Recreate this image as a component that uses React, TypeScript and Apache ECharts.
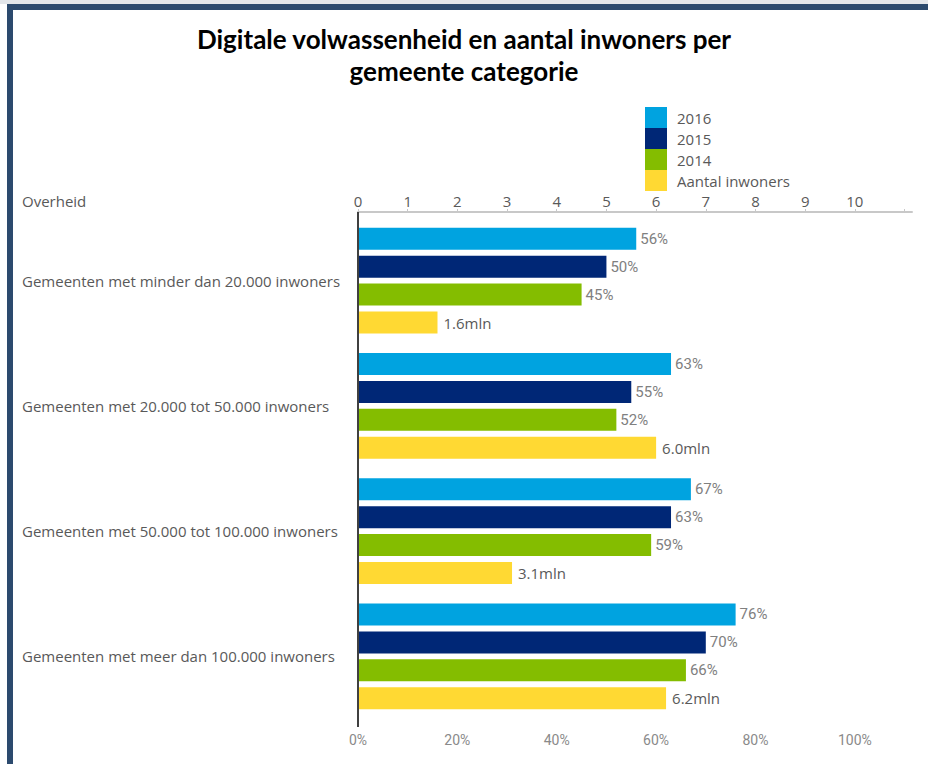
import React, { useEffect, useRef } from "react";
import * as echarts from "echarts";

const categories = [
  "Gemeenten met minder dan 20.000 inwoners",
  "Gemeenten met 20.000 tot 50.000 inwoners",
  "Gemeenten met 50.000 tot 100.000 inwoners",
  "Gemeenten met meer dan 100.000 inwoners",
];
const pct2016 = [56, 63, 67, 76];
const pct2015 = [50, 55, 63, 70];
const pct2014 = [45, 52, 59, 66];
const inwonersMln = [1.6, 6.0, 3.1, 6.2];
const topTicks = [0, 1, 2, 3, 4, 5, 6, 7, 8, 9, 10];
const bottomTicks = ["0%", "20%", "40%", "60%", "80%", "100%"];

const TITLE_FONT = "Lato, 'Open Sans', sans-serif";
const FONT = "'Open Sans', Lato, sans-serif";
const COND = "Roboto, 'Noto Sans', sans-serif";

export default function App() {
  const ref = useRef<HTMLDivElement>(null);
  useEffect(() => {
    if (!ref.current) return;
    const chart = echarts.init(ref.current, null, { renderer: "svg" });
    const pctLabel = {
      show: true,
      position: "right",
      distance: 4,
      color: "#808080",
      fontSize: 15,
      fontFamily: COND,
      formatter: (p: any) => Math.round(p.value * 10) + "%",
    };
    const mlnLabel = {
      show: true,
      position: "right",
      distance: 6,
      color: "#595959",
      fontSize: 15,
      fontFamily: FONT,
      formatter: (p: any) => p.value.toFixed(1) + "mln",
    };
    const mkBar = (name: string, data: number[], color: string, label: any) => ({
      name,
      type: "bar",
      data,
      barWidth: 22,
      barGap: "27%",
      itemStyle: { color },
      label,
      xAxisIndex: 0,
    });
    chart.setOption({
      animation: false,
      backgroundColor: "#ffffff",
      title: {
        text: "Digitale volwassenheid en aantal inwoners per\ngemeente categorie",
        left: "center",
        top: 18,
        padding: [5, 0, 5, 8],
        textStyle: {
          fontSize: 26,
          lineHeight: 32,
          fontWeight: "bold",
          color: "#000000",
          fontFamily: TITLE_FONT,
        },
      },
      legend: {
        orient: "vertical",
        left: 645,
        top: 107,
        padding: 0,
        itemWidth: 22,
        itemHeight: 21,
        itemGap: 0,
        icon: "rect",
        textStyle: {
          fontSize: 15,
          color: "#595959",
          fontFamily: FONT,
          lineHeight: 21,
          padding: [0, 0, 0, 5],
        },
        data: ["2016", "2015", "2014", "Aantal inwoners"],
      },
      grid: { left: 358, right: 16, top: 218, bottom: 45, containLabel: false },
      xAxis: [
        {
          type: "value",
          position: "top",
          offset: 6,
          min: 0,
          max: 11.15,
          interval: 1,
          splitLine: { show: false },
          axisLine: { show: true, lineStyle: { color: "#c8c8c8", width: 2 } },
          axisTick: { show: true, length: 3, lineStyle: { color: "#c8c8c8" } },
          axisLabel: {
            color: "#595959",
            fontSize: 15,
            fontFamily: FONT,
            margin: 4,
            showMaxLabel: false,
            formatter: (v: number) => (topTicks.indexOf(v) >= 0 ? String(v) : ""),
          },
        },
        {
          type: "value",
          position: "bottom",
          min: 0,
          max: 11.15,
          interval: 2,
          splitLine: { show: false },
          axisLine: { show: false },
          axisTick: { show: false },
          axisLabel: {
            color: "#8a8a8a",
            fontSize: 14,
            fontFamily: COND,
            margin: 14,
            showMaxLabel: false,
            formatter: (v: number) => {
              const i = Math.round(v / 2);
              return v <= 10 && bottomTicks[i] ? bottomTicks[i] : "";
            },
          },
        },
      ],
      yAxis: {
        type: "category",
        inverse: true,
        data: categories,
        axisLine: { show: false },
        axisTick: { show: false },
        axisLabel: {
          align: "left",
          margin: 336,
          color: "#595959",
          fontSize: 15,
          fontFamily: FONT,
        },
      },
      series: [
        mkBar("2016", pct2016.map((v) => v / 10), "#00A3E0", pctLabel),
        mkBar("2015", pct2015.map((v) => v / 10), "#002776", pctLabel),
        mkBar("2014", pct2014.map((v) => v / 10), "#84BD00", pctLabel),
        mkBar("Aantal inwoners", inwonersMln, "#FFD933", mlnLabel),
      ],
      graphic: [
        { type: "rect", shape: { x: 0, y: 0, width: 928, height: 4 }, style: { fill: "#e3e6ea" }, silent: true },
        { type: "rect", shape: { x: 7, y: 4, width: 921, height: 6 }, style: { fill: "#2c4a6e" }, silent: true },
        { type: "rect", shape: { x: 7, y: 4, width: 6, height: 760 }, style: { fill: "#2c4a6e" }, silent: true },
        {
          type: "line",
          shape: { x1: 358, y1: 212, x2: 358, y2: 727 },
          style: { stroke: "#404040", lineWidth: 2 },
          silent: true,
          z: 10,
        },
        {
          type: "text",
          x: 22,
          y: 201,
          style: {
            text: "Overheid",
            fontSize: 15,
            fill: "#595959",
            fontFamily: FONT,
            verticalAlign: "middle",
          },
        },
      ],
    });
    return () => chart.dispose();
  }, []);
  return (
    <div
      ref={ref}
      style={{ position: "fixed", left: 0, top: 0, width: 928, height: 764 }}
    />
  );
}
